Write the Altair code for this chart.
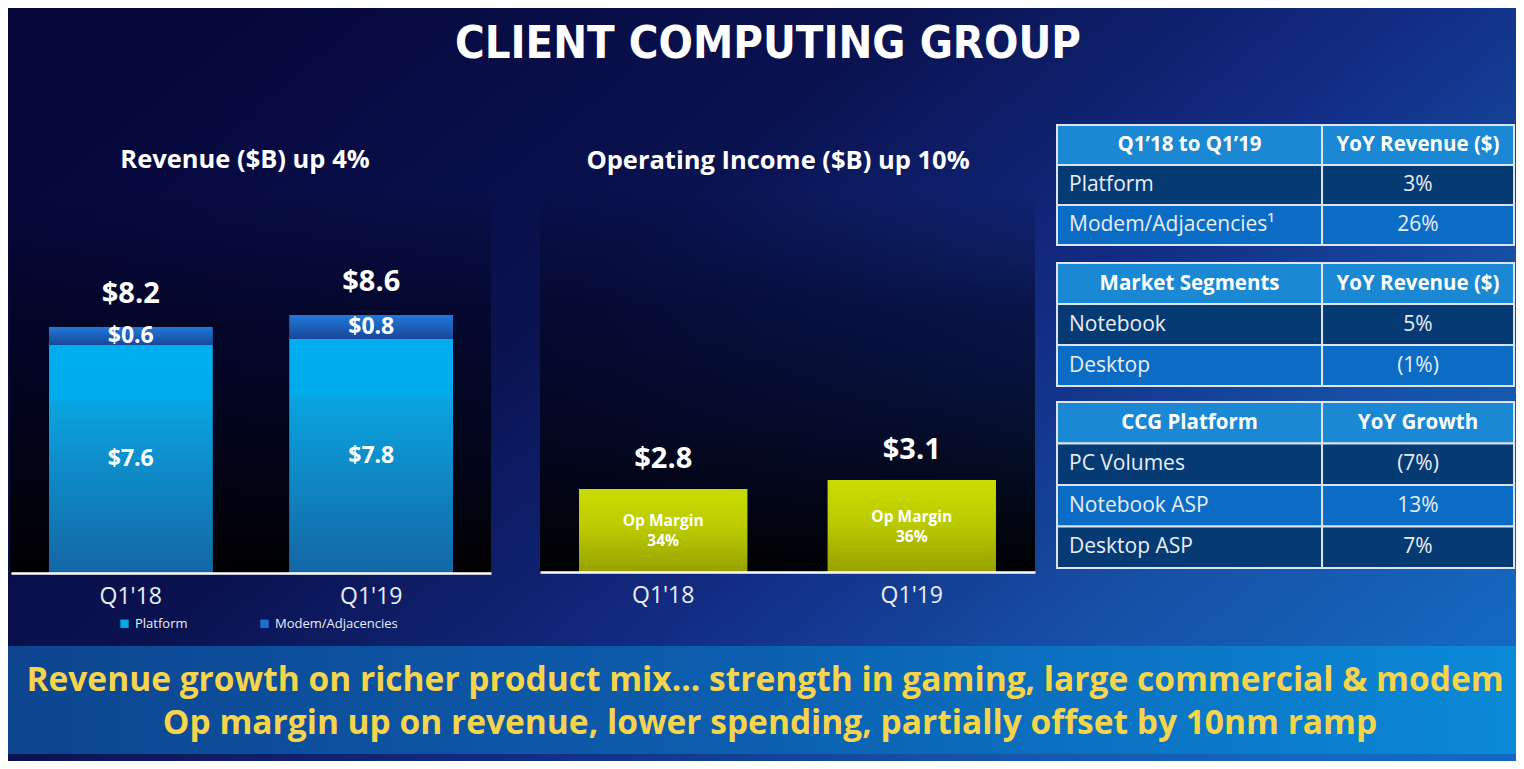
import altair as alt
import pandas as pd

W, H = 1508, 753

# ---------------- data ----------------
QUARTERS = ["Q1'18", "Q1'19"]
SERIES = ["Platform", "Modem/Adjacencies"]
PLATFORM_REV = [7.6, 7.8]
MODEM_REV = [0.6, 0.8]
OP_INCOME = [2.8, 3.1]
OP_MARGIN = ["34%", "36%"]

TITLE = "CLIENT COMPUTING GROUP"
REV_TITLE = "Revenue ($B) up 4%"
OP_TITLE = "Operating Income ($B) up 10%"
BANNER = [
    "Revenue growth on richer product mix... strength in gaming, large commercial & modem",
    "Op margin up on revenue, lower spending, partially offset by 10nm ramp",
]

T1_HEAD = ["Q1\u201918 to Q1\u201919", "YoY Revenue ($)"]
T1_ROWS = ["Platform", "Modem/Adjacencies\u00b9"]
T1_VALS = ["3%", "26%"]
T2_HEAD = ["Market Segments", "YoY Revenue ($)"]
T2_ROWS = ["Notebook", "Desktop"]
T2_VALS = ["5%", "(1%)"]
T3_HEAD = ["CCG Platform", "YoY Growth"]
T3_ROWS = ["PC Volumes", "Notebook ASP", "Desktop ASP"]
T3_VALS = ["(7%)", "13%", "7%"]

# ---------------- styles ----------------
FONT = "Open Sans"
WHITE = "#ffffff"
SOFT = "#e9eef7"


def grad(stops, x1=0, y1=0, x2=0, y2=1):
    return alt.LinearGradient(
        gradient="linear",
        stops=[alt.GradientStop(offset=o, color=c) for o, c in stops],
        x1=x1, y1=y1, x2=x2, y2=y2,
    )


BG_GRAD = grad([(0, "#06073a"), (0.35, "#0a1250"), (0.6, "#122c84"),
                (0.8, "#1650a6"), (1, "#1468bf")], x1=0, y1=0.2, x2=1, y2=0.8)
PANEL_GRAD = grad([(0, "rgba(0,0,20,0)"), (0.3, "rgba(0,0,20,0.5)"), (1, "#000000")])
PLAT_GRAD = grad([(0, "#00aeef"), (0.24, "#00abeb"), (0.25, "#0aa4e0"), (1, "#1466a5")])
MODEM_GRAD = grad([(0, "#2079da"), (1, "#18479a")])
OP_GRAD = grad([(0, "#cbdc00"), (0.45, "#bccb00"), (1, "#96a100")])
BANNER_GRAD = grad([(0, "#0d4590"), (0.5, "#0c5fb0"), (1, "#0a8ad8")], x1=0, y1=0, x2=1, y2=0)

Y_SCALE = alt.Scale(domain=[0, 10], range=[565, 265], nice=False, zero=False)

one = alt.Data(values=[{"k": 1}])


def q_axis(offset):
    return alt.Axis(orient="bottom", offset=offset, title=None, ticks=False, grid=False,
                    domainColor=WHITE, domainWidth=2.5, labelColor=SOFT, labelFont=FONT,
                    labelFontSize=23, labelPadding=12, labelAngle=0, zindex=2)


# ---------------- background ----------------
bg = alt.Chart(one).mark_rect(color=BG_GRAD).encode(
    x=alt.value(0), x2=alt.value(W), y=alt.value(0), y2=alt.value(H))

rev_panel = alt.Chart(one).mark_rect(color=PANEL_GRAD).encode(
    x=alt.value(2), x2=alt.value(483), y=alt.value(182), y2=alt.value(565))
op_panel = alt.Chart(one).mark_rect(color=PANEL_GRAD).encode(
    x=alt.value(532), x2=alt.value(1027), y=alt.value(182), y2=alt.value(565))

# ---------------- revenue chart ----------------
rows = []
for q, p, m in zip(QUARTERS, PLATFORM_REV, MODEM_REV):
    rows.append(dict(quarter=q, series=SERIES[0], y0=0.0, y1=p, label=f"${p:.1f}"))
    rows.append(dict(quarter=q, series=SERIES[1], y0=p, y1=p + m, label=f"${m:.1f}"))
rev_df = pd.DataFrame(rows)
rev_df["mid"] = (rev_df["y0"] + rev_df["y1"]) / 2
tot_df = pd.DataFrame({
    "quarter": QUARTERS,
    "total": [p + m for p, m in zip(PLATFORM_REV, MODEM_REV)],
})
tot_df["label"] = tot_df["total"].map(lambda v: f"${v:.1f}")

rev_x = alt.X("quarter:N", sort=QUARTERS,
              scale=alt.Scale(domain=QUARTERS, range=[3, 483], paddingInner=0.32, paddingOuter=0.158),
              axis=q_axis(-188))

rev_base = alt.Chart(rev_df).mark_bar().encode(
    x=rev_x,
    y=alt.Y("y1:Q", scale=Y_SCALE, axis=None),
    y2="y0:Q",
    color=alt.Color("series:N", scale=alt.Scale(domain=SERIES, range=["#06a8e6", "#1f6fd0"]),
                    legend=alt.Legend(orient="none", legendX=110, legendY=609, direction="horizontal",
                                      title=None, symbolType="square", symbolSize=70,
                                      symbolStrokeWidth=0, labelColor=SOFT, labelFont=FONT,
                                      labelFontSize=13, labelOffset=4, gridAlign="all",
                                      columnPadding=0, padding=0, zindex=2)),
)
plat_bars = alt.Chart(rev_df).transform_filter(alt.datum.series == SERIES[0]).mark_bar(
    color=PLAT_GRAD).encode(x=rev_x, y=alt.Y("y1:Q", scale=Y_SCALE, axis=None), y2="y0:Q")
modem_bars = alt.Chart(rev_df).transform_filter(alt.datum.series == SERIES[1]).mark_bar(
    color=MODEM_GRAD).encode(x=rev_x, y=alt.Y("y1:Q", scale=Y_SCALE, axis=None), y2="y0:Q")
seg_text = alt.Chart(rev_df).mark_text(font=FONT, fontSize=23, fontWeight="bold", color=WHITE,
                                       baseline="middle").encode(
    x=rev_x, y=alt.Y("mid:Q", scale=Y_SCALE, axis=None), text="label:N")
tot_text = alt.Chart(tot_df).mark_text(font=FONT, fontSize=29, fontWeight="bold", color=WHITE,
                                       baseline="alphabetic", dy=-24).encode(
    x=rev_x, y=alt.Y("total:Q", scale=Y_SCALE, axis=None), text="label:N")

rev_layer = alt.layer(rev_base, plat_bars, modem_bars, seg_text, tot_text)

# ---------------- operating income chart ----------------
op_df = pd.DataFrame({"quarter": QUARTERS, "value": OP_INCOME, "margin": OP_MARGIN})
op_df["zero"] = 0.0
op_df["mid"] = op_df["value"] / 2
op_df["label"] = op_df["value"].map(lambda v: f"${v:.1f}")
op_df["mtext"] = op_df["margin"].map(lambda m: "Op Margin\n" + m)

op_x = alt.X("quarter:N", sort=QUARTERS,
             scale=alt.Scale(domain=QUARTERS, range=[532, 1027], paddingInner=0.3226, paddingOuter=0.157),
             axis=q_axis(-189))

op_bars = alt.Chart(op_df).mark_bar(color=OP_GRAD).encode(
    x=op_x, y=alt.Y("value:Q", scale=Y_SCALE, axis=None), y2="zero:Q")
op_tot = alt.Chart(op_df).mark_text(font=FONT, fontSize=29, fontWeight="bold", color=WHITE,
                                    baseline="alphabetic", dy=-21).encode(
    x=op_x, y=alt.Y("value:Q", scale=Y_SCALE, axis=None), text="label:N")
op_margin = alt.Chart(op_df).mark_text(font=FONT, fontSize=15.5, fontWeight="bold", color=WHITE,
                                       baseline="middle", lineBreak="\n", lineHeight=20, dy=-10).encode(
    x=op_x, y=alt.Y("mid:Q", scale=Y_SCALE, axis=None), text="mtext:N")

op_layer = alt.layer(op_bars, op_tot, op_margin)

# ---------------- tables ----------------
SPLIT = 0.58
TX = alt.Scale(domain=[0, 1], range=[1049, 1506], nice=False, zero=False)
ROLE_DOMAIN = ["head", "dark", "mid"]
ROLE_COLORS = ["#1a88d2", "#053a73", "#0a6cc4"]


def table(head, rows_, vals, yrange):
    n = len(rows_) + 1
    cells, texts = [], []
    for r in range(n):
        role = "head" if r == 0 else ("dark" if r % 2 == 1 else "mid")
        cells.append(dict(row=r, role=role, x0=0.0, x1=SPLIT))
        cells.append(dict(row=r, role=role, x0=SPLIT, x1=1.0))
    texts.append(dict(row=0, kind="head", tx=SPLIT / 2, text=head[0]))
    texts.append(dict(row=0, kind="head", tx=(1 + SPLIT) / 2, text=head[1]))
    for i, (lab, v) in enumerate(zip(rows_, vals)):
        texts.append(dict(row=i + 1, kind="left", tx=0.0, text=lab))
        texts.append(dict(row=i + 1, kind="center", tx=(1 + SPLIT) / 2, text=v))
    cdf = pd.DataFrame(cells)
    tdf = pd.DataFrame(texts)
    ys = alt.Scale(domain=list(range(n)), range=yrange, paddingInner=0, paddingOuter=0)
    yenc = alt.Y("row:O", scale=ys, axis=None)
    rect = alt.Chart(cdf).mark_rect(stroke="#dce4f1", strokeWidth=2).encode(
        x=alt.X("x0:Q", scale=TX, axis=None), x2="x1:Q", y=yenc,
        color=alt.Color("role:N", scale=alt.Scale(domain=ROLE_DOMAIN, range=ROLE_COLORS), legend=None))
    htxt = alt.Chart(tdf).transform_filter(alt.datum.kind == "head").mark_text(
        font=FONT, fontSize=20.5, fontWeight="bold", color=WHITE, baseline="middle", align="center").encode(
        x=alt.X("tx:Q", scale=TX, axis=None), y=yenc, text="text:N")
    ltxt = alt.Chart(tdf).transform_filter(alt.datum.kind == "left").mark_text(
        font=FONT, fontSize=21, color=SOFT, baseline="middle", align="left", dx=12).encode(
        x=alt.X("tx:Q", scale=TX, axis=None), y=yenc, text="text:N")
    ctxt = alt.Chart(tdf).transform_filter(alt.datum.kind == "center").mark_text(
        font=FONT, fontSize=21, color=SOFT, baseline="middle", align="center").encode(
        x=alt.X("tx:Q", scale=TX, axis=None), y=yenc, text="text:N")
    return alt.layer(rect, htxt, ltxt, ctxt)


t1 = table(T1_HEAD, T1_ROWS, T1_VALS, [117, 237])
t2 = table(T2_HEAD, T2_ROWS, T2_VALS, [255, 378])
t3 = table(T3_HEAD, T3_ROWS, T3_VALS, [394, 560])

# ---------------- titles & banner ----------------
title = alt.Chart(one).mark_text(font="DejaVu Sans Condensed, sans-serif",
                                 fontSize=45, fontWeight="bold", color=WHITE, align="center",
                                 baseline="alphabetic").encode(
    x=alt.value(760), y=alt.value(50), text=alt.value(TITLE))
rev_title = alt.Chart(one).mark_text(font=FONT, fontSize=25.5, fontWeight="bold", color=WHITE,
                                     align="center", baseline="alphabetic").encode(
    x=alt.value(237), y=alt.value(160), text=alt.value(REV_TITLE))
op_title = alt.Chart(one).mark_text(font=FONT, fontSize=25.5, fontWeight="bold", color=WHITE,
                                    align="center", baseline="alphabetic").encode(
    x=alt.value(770), y=alt.value(161), text=alt.value(OP_TITLE))

banner_rect = alt.Chart(one).mark_rect(color=BANNER_GRAD).encode(
    x=alt.value(0), x2=alt.value(W), y=alt.value(638), y2=alt.value(746))
banner_line1 = alt.Chart(one).mark_text(font=FONT, fontSize=33.5, fontWeight="bold", color="#f6d44b",
                                        align="center", baseline="alphabetic").encode(
    x=alt.value(757), y=alt.value(683), text=alt.value(BANNER[0]))
banner_line2 = alt.Chart(one).mark_text(font=FONT, fontSize=33.5, fontWeight="bold", color="#f6d44b",
                                        align="center", baseline="alphabetic").encode(
    x=alt.value(762), y=alt.value(726), text=alt.value(BANNER[1]))

chart = alt.layer(
    bg, rev_panel, op_panel, rev_layer, op_layer, t1, t2, t3,
    title, rev_title, op_title, banner_rect, banner_line1, banner_line2,
).resolve_scale(
    x="independent", y="independent", color="independent"
).resolve_axis(
    x="independent", y="independent"
).resolve_legend(
    color="independent"
).properties(
    width=W, height=H, padding=0, background="#06073a",
    autosize=alt.AutoSizeParams(type="none"),
).configure_view(stroke=None)

chart.save("out.html", embed_options={"renderer": "svg", "actions": False})
